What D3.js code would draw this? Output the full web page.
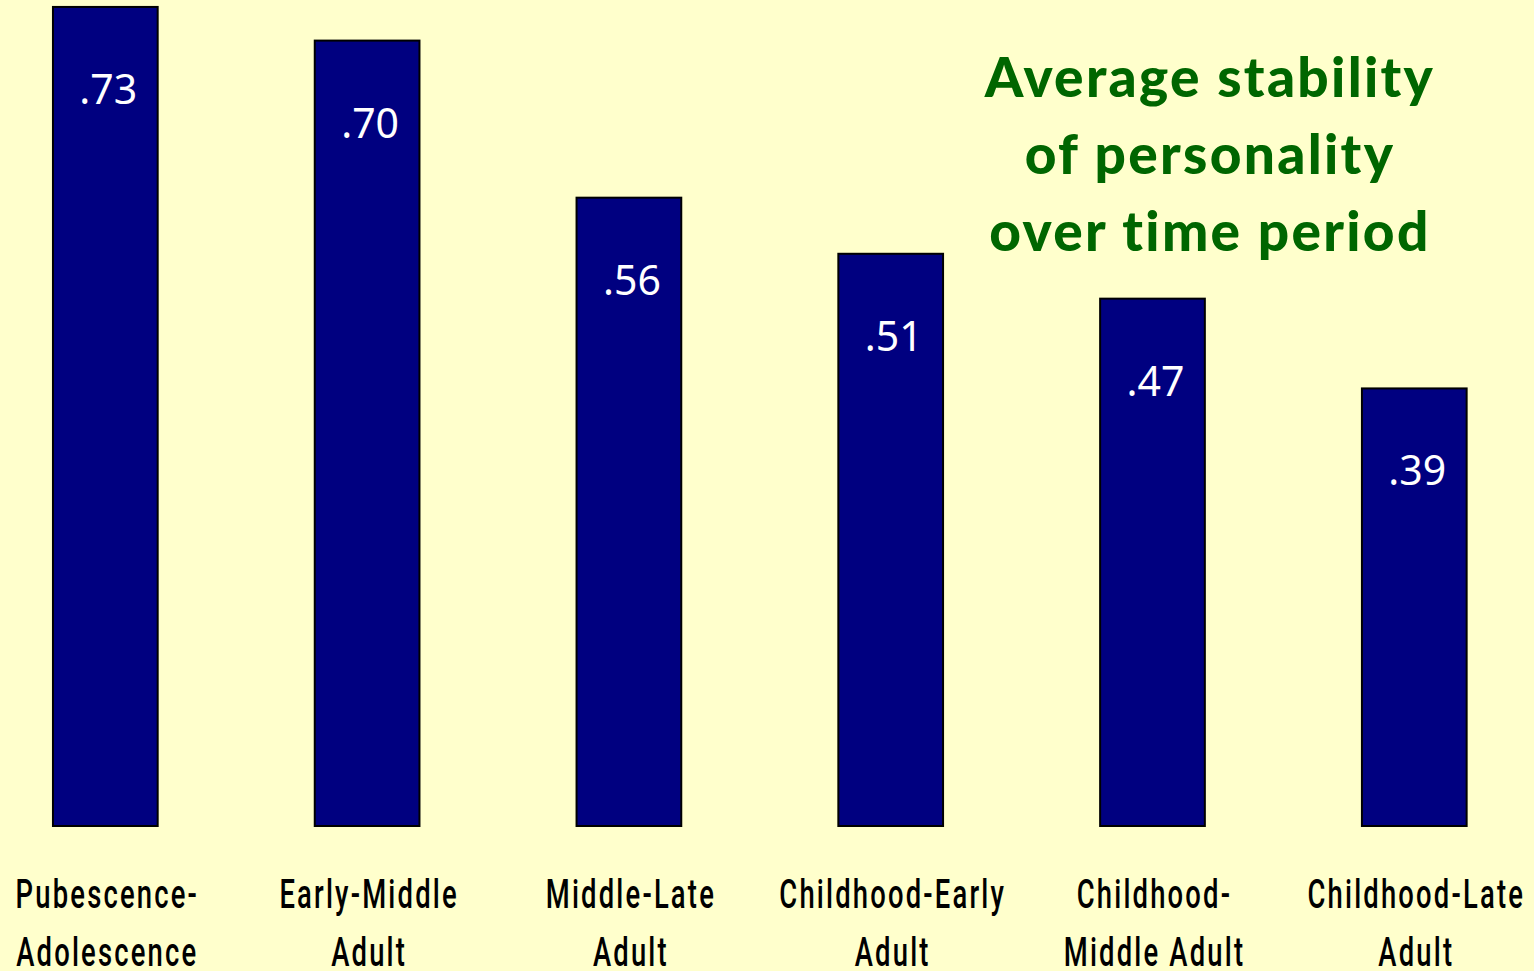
<!DOCTYPE html>
<html>
<head>
<meta charset="utf-8">
<script src="https://cdn.jsdelivr.net/npm/d3@7"></script>
<style>
  html, body { margin: 0; padding: 0; background: #FFFFCC; overflow: hidden; }
  svg { display: block; }
</style>
</head>
<body>
<script>
// Stability correlations of personality across age spans
const periods = [
  ["Pubescence-", "Adolescence"],
  ["Early-Middle", "Adult"],
  ["Middle-Late", "Adult"],
  ["Childhood-Early", "Adult"],
  ["Childhood-", "Middle Adult"],
  ["Childhood-Late", "Adult"]
];
const stability = [0.73, 0.70, 0.56, 0.51, 0.47, 0.39];
const valueLabels = [".73", ".70", ".56", ".51", ".47", ".39"];
const titleLines = ["Average stability", "of personality", "over time period"];

const W = 1534, H = 971;
const svg = d3.select("body").append("svg")
  .attr("width", W).attr("height", H);

svg.append("rect").attr("width", W).attr("height", H).attr("fill", "#FFFFCC");

const ids = d3.range(stability.length);

const x = d3.scaleBand()
  .domain(ids)
  .range([0.6, 1519])
  .paddingInner(0.6)
  .paddingOuter(0.2);

const y = d3.scaleLinear()
  .domain([0, 0.8])
  .range([826, -71.6]);

// bars
svg.append("g").selectAll("rect")
  .data(ids)
  .join("rect")
  .attr("x", i => x(i))
  .attr("y", i => y(stability[i]))
  .attr("width", x.bandwidth())
  .attr("height", i => y(0) - y(stability[i]))
  .attr("fill", "#000080")
  .attr("stroke", "#000")
  .attr("stroke-width", 2);

// value labels inside the bars
svg.append("g").selectAll("text")
  .data(ids)
  .join("text")
  .attr("x", i => x(i) + x.bandwidth() / 2 + 3)
  .attr("y", i => y(stability[i]) + 97)
  .attr("text-anchor", "middle")
  .attr("fill", "#fff")
  .attr("font-family", "'Noto Sans', 'Open Sans', sans-serif")
  .attr("font-size", 41)
  .text(i => valueLabels[i]);

// category labels (two lines each), horizontally condensed
const xAxis = svg.append("g");
ids.forEach(i => {
  const t = xAxis.append("text")
    .attr("text-anchor", "middle")
    .attr("fill", "#000")
    .attr("font-family", "Roboto, 'Noto Sans', sans-serif")
    .attr("font-weight", 500)
    .attr("font-size", 40)
    .attr("letter-spacing", 3.2)
    .attr("transform", `translate(${x(i) + x.bandwidth() / 2 + 2},0) scale(0.685,1)`);
  periods[i].forEach((line, k) => {
    t.append("tspan")
      .attr("x", 0)
      .attr("y", 908 + k * 58)
      .text(line);
  });
});

// title block
const title = svg.append("text")
  .attr("text-anchor", "middle")
  .attr("fill", "#006600")
  .attr("font-family", "'Lato', 'DejaVu Sans', sans-serif")
  .attr("font-weight", 900)
  .attr("font-size", 55)
  .attr("letter-spacing", 2.3);
titleLines.forEach((line, k) => {
  title.append("tspan")
    .attr("x", 1210)
    .attr("y", 97 + k * 77)
    .text(line);
});
</script>
</body>
</html>
